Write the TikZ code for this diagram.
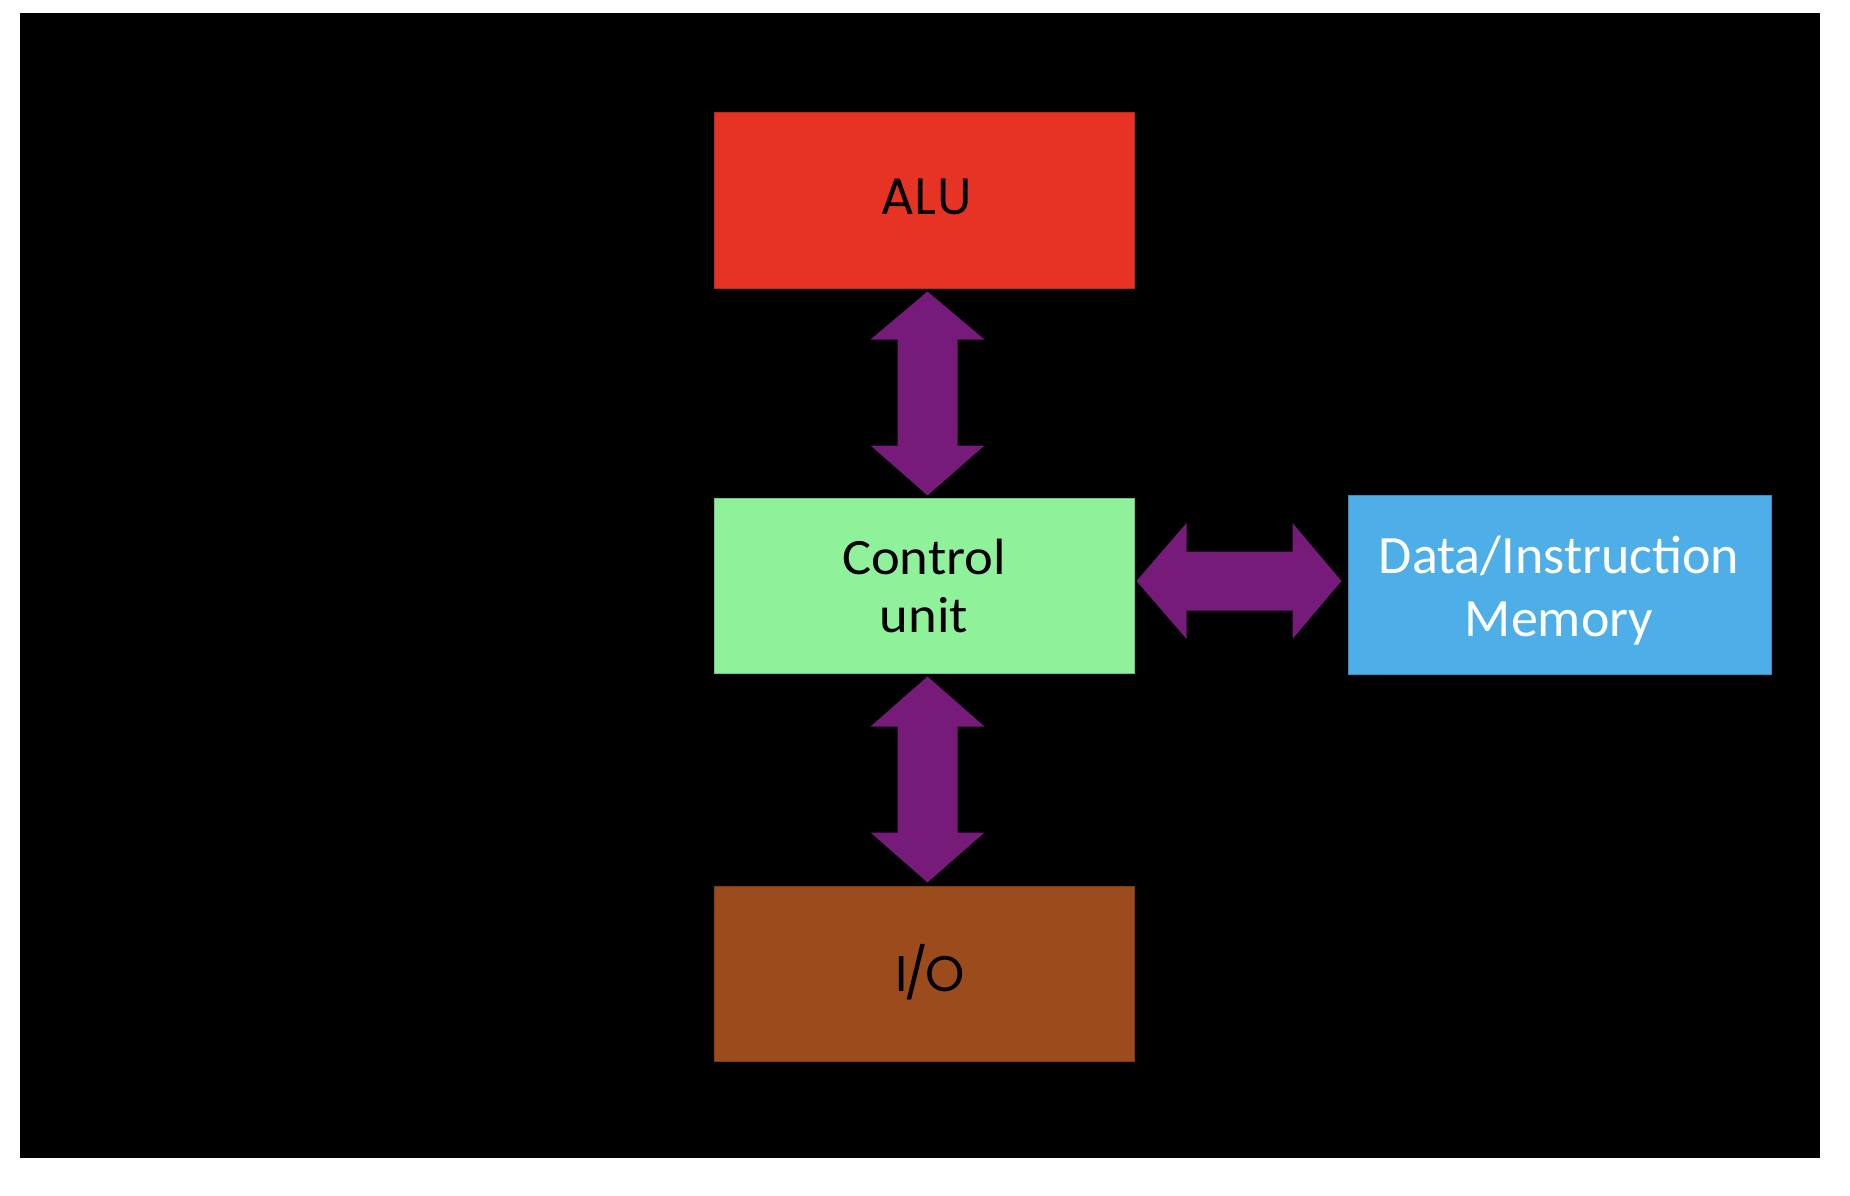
\documentclass[tikz,border=0pt]{standalone}
\usepackage{fontspec}
\setmainfont{Carlito}
\newfontfamily\geofont{Poppins}
\newfontfamily\ctrlfont[FakeStretch=1.07]{Carlito}
\usetikzlibrary{calc}
\definecolor{alured}{HTML}{E73324}
\definecolor{ctrlgreen}{HTML}{8FF29A}
\definecolor{memblue}{HTML}{4DAEE8}
\definecolor{iobrown}{HTML}{9C4B1D}
\definecolor{arrowpurple}{HTML}{761B7A}
\begin{document}
\begin{tikzpicture}[x=1pt,y=-1pt,
  unitbox/.style={draw=#1!80!black, line width=1pt, fill=#1, minimum width=420pt, minimum height=175pt, inner sep=0pt, align=center, anchor=north west},
  bigarrow/.style={fill=arrowpurple}]
\useasboundingbox (0,0) rectangle (1850,1196);
\fill[white] (0,0) rectangle (1850,1196);
\fill[black] (20,13) rectangle (1820,1158);
\node[unitbox=alured] (alu) at (713.5,112.5) {};
\node[font=\geofont\fontsize{51}{56}\selectfont, text=black] (alutext) at (926,197) {ALU};
\node[unitbox=ctrlgreen, font=\ctrlfont\fontsize{51}{58}\selectfont, text=black] (ctrl) at (713.5,497.5) {Control\\unit};
\node[unitbox=memblue, minimum width=423pt, minimum height=179pt] (mem) at (1347.5,494.5) {};
\node[font=\fontsize{54}{63}\selectfont, text=white, align=center, anchor=base] (memtext) at (1559,636) {Data/Instruction\\Memory};
\node[unitbox=iobrown] (io) at (713.5,885.5) {};
\node[font=\geofont\fontsize{50}{56}\selectfont, text=black] (iotext) at (930,972) {I\kern-3pt/\kern-3pt O};
% ALU <-> Control
\fill[bigarrow] ($(alu.south)+(3.5,3)$) -- ++(57,48) -- ++(-27,0) -- ++(0,106) -- ++(27,0)
  -- ($(ctrl.north)+(3.5,-2)$) -- ++(-57,-50) -- ++(27,0) -- ++(0,-106) -- ++(-27,0) -- cycle;
% Control <-> I/O
\fill[bigarrow] ($(ctrl.south)+(3.5,3)$) -- ++(57,50) -- ++(-27,0) -- ++(0,106) -- ++(27,0)
  -- ($(io.north)+(3.5,-3)$) -- ++(-57,-50) -- ++(27,0) -- ++(0,-106) -- ++(-27,0) -- cycle;
% Control <-> Memory
\fill[bigarrow] ($(ctrl.east)+(2,-4.5)$) -- ++(50,-58) -- ++(0,28.5) -- ++(106,0) -- ++(0,-28.5)
  -- ($(mem.west)+(-6,-3.5)$) -- ++(-49,58) -- ++(0,-28.5) -- ++(-106,0) -- ++(0,28.5) -- cycle;
\end{tikzpicture}
\end{document}
